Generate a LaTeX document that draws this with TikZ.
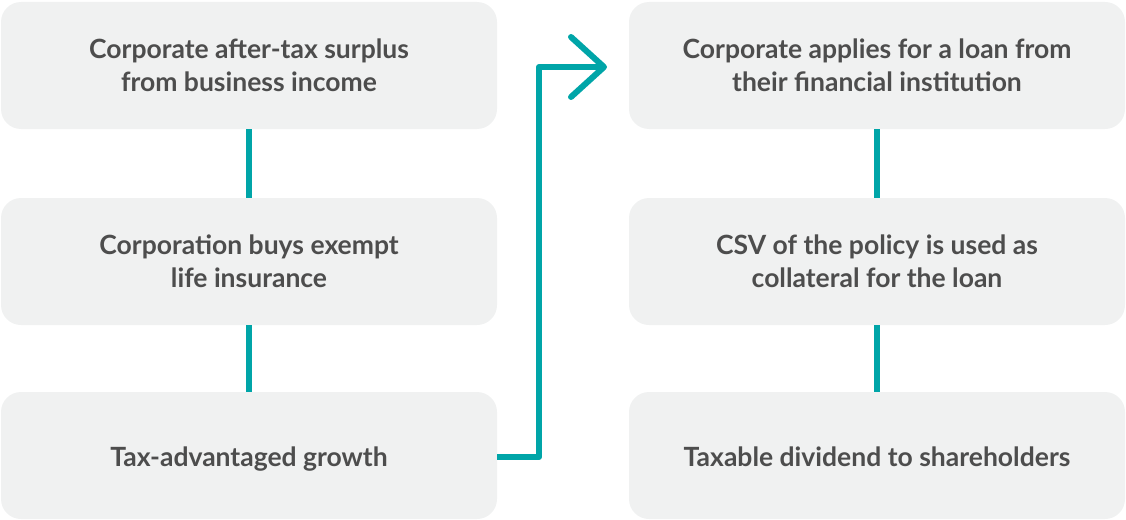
\documentclass[tikz,border=0pt]{standalone}
\usepackage{fontspec}
\setmainfont{Lato}
\definecolor{boxfill}{HTML}{F0F1F1}
\definecolor{txt}{HTML}{4D4D4D}
\definecolor{teal}{HTML}{00A5A8}
\newcommand{\oneline}[1]{\raisebox{-11pt}[0pt][0pt]{#1}}
\begin{document}
\begin{tikzpicture}[x=1pt,y=-1pt,
  stepbox/.style={fill=boxfill, rounded corners=20pt, minimum width=496pt, minimum height=127pt,
    text=txt, font=\bfseries\fontsize{26.5}{33}\selectfont, align=center, inner sep=0pt},
  link/.style={draw=teal, line width=6pt}]
\useasboundingbox (0,0) rectangle (1126,519);
\node[stepbox] (a1) at (249,65.5) {Corporate after-tax surplus\\from business income};
\node[stepbox] (a2) at (249,261.5) {Corporation buys exempt\\life insurance};
\node[stepbox] (a3) at (249,455.5) {\oneline{Tax-advantaged growth}};
\node[stepbox] (b1) at (877,65.5) {Corporate applies for a loan from\\their financial institution};
\node[stepbox] (b2) at (877,261.5) {CSV of the policy is used as\\collateral for the loan};
\node[stepbox] (b3) at (877,455.5) {\oneline{Taxable dividend to shareholders}};
\draw[link] (a1.south) -- (a2.north);
\draw[link] (a2.south) -- (a3.north);
\draw[link] (b1.south) -- (b2.north);
\draw[link] (b2.south) -- (b3.north);
\coordinate (tip) at (604,67);
\draw[link, line join=round] (a3.east |- 0,457) -- (539,457) -- (539,67) -- (tip);
\draw[link, line cap=round, line join=round] (571,37) -- (tip) -- (571,97);
\end{tikzpicture}
\end{document}
